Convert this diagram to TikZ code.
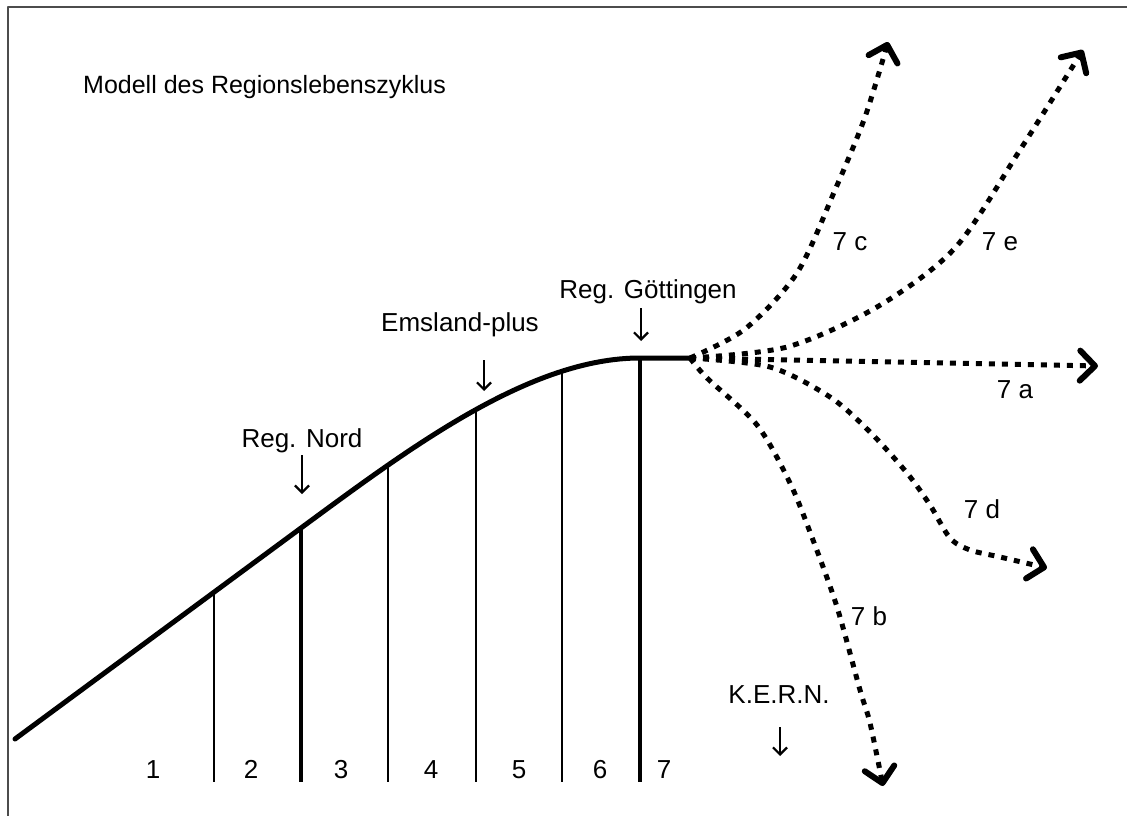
\documentclass[tikz,border=0pt]{standalone}
\usepackage{fontspec}
\setmainfont{Liberation Sans}
\usetikzlibrary{arrows.meta}

\begin{document}
\begin{tikzpicture}[
  x=1pt,
  y=-1pt,
  line join=round,
  frame/.style={draw=black!70,line width=1.5pt},
  lifecurve/.style={draw=black,line width=5pt,line cap=round},
  stage/.style={draw=black,line width=2pt},
  stagebold/.style={draw=black,line width=3.2pt},
  branch/.style={draw=black,line width=5pt,dash pattern=on 6pt off 7pt,
    -{Straight Barb[length=15pt,width=30pt,line width=6pt 0,round]}},
  pointer/.style={draw=black,line width=2.2pt,-{Straight Barb[length=7pt,width=14pt]}},
  lbl/.style={font=\fontsize{26}{30}\selectfont,inner sep=0pt,anchor=base}
]
  % Match the artwork frame.
  \useasboundingbox (0,0) rectangle (1127,816);
  \draw[frame] (1127,7) -- (8,7) -- (8,816);

  % Points on the life cycle curve and the feet of the stage lines.
  \coordinate (s0) at (15,739);
  \coordinate (s1) at (214,592);
  \coordinate (s2) at (301,528);
  \coordinate (s3) at (388,465);
  \coordinate (s4) at (476,410);
  \coordinate (s5) at (562,371);
  \coordinate (s6) at (640,358);
  \coordinate (fork) at (690,358);
  \coordinate (ground) at (0,782);
  \foreach \i in {1,...,6} {
    \coordinate (b\i) at (s\i |- ground);
  }

  % Stage borders.
  \foreach \i in {1,3,4,5} {
    \draw[stage] (s\i) -- (b\i);
  }
  \foreach \i in {2,6} {
    \draw[stagebold] (s\i) -- (b\i);
  }

  % Life cycle curve.
  \draw[lifecurve] (s0) -- (s2) .. controls (411,447) and (530,358) .. (s6) -- (fork);

  % Stage numbers.
  \node[lbl] (n1) at (153,778) {1};
  \node[lbl] (n2) at (251,778) {2};
  \node[lbl] (n3) at (341,778) {3};
  \node[lbl] (n4) at (431,778) {4};
  \node[lbl] (n5) at (519,778) {5};
  \node[lbl] (n6) at (600,778) {6};
  \node[lbl] (n7) at (664,778) {7};

  % Title and region labels.
  \node[lbl,anchor=base west,font=\fontsize{25}{30}\selectfont] (title) at (83,93) {Modell des Regionslebenszyklus};
  \node[lbl] (nord) at (302,447) {Reg. Nord};
  \node[lbl] (ems) at (460,331) {Emsland-plus};
  \node[lbl] (goe) at (648,298) {Reg. Göttingen};
  \node[lbl] (kern) at (779,703) {K.E.R.N.};

  \coordinate (nordtop) at (302,455);
  \coordinate (nordtip) at (302,494);
  \coordinate (emstop) at (484,360);
  \coordinate (emstip) at (484,391);
  \coordinate (goetop) at (641,308);
  \coordinate (goetip) at (641,341);
  \coordinate (kerntop) at (780,727);
  \coordinate (kerntip) at (780,756);
  \draw[pointer] (nordtop) -- (nordtip);
  \draw[pointer] (emstop) -- (emstip);
  \draw[pointer] (goetop) -- (goetip);
  \draw[pointer] (kerntop) -- (kerntip);

  % Possible paths after stage 7.
  \draw[branch] plot[smooth] coordinates
    {(690,358) (745,329) (797,273) (835,190) (865,117) (888,42)};
  \draw[branch] plot[smooth] coordinates
    {(690,358) (787,347) (877,307) (955,248) (1020,150) (1083,50)};
  \draw[branch] (fork) -- (1098,366);
  \draw[branch] plot[smooth] coordinates
    {(690,358) (770,367) (830,397) (870,432) (907,473) (930,505) (950,538) (970,550) (1000,557) (1047,568)};
  \draw[branch] plot[smooth] coordinates
    {(690,358) (707,378) (757,425) (790,483) (813,540) (837,607) (860,690) (870,723) (883,786)};

  \node[lbl] (l7c) at (850,250) {7 c};
  \node[lbl] (l7e) at (1000,250) {7 e};
  \node[lbl] (l7a) at (1015,398) {7 a};
  \node[lbl] (l7d) at (982,518) {7 d};
  \node[lbl] (l7b) at (869,625) {7 b};
\end{tikzpicture}
\end{document}
